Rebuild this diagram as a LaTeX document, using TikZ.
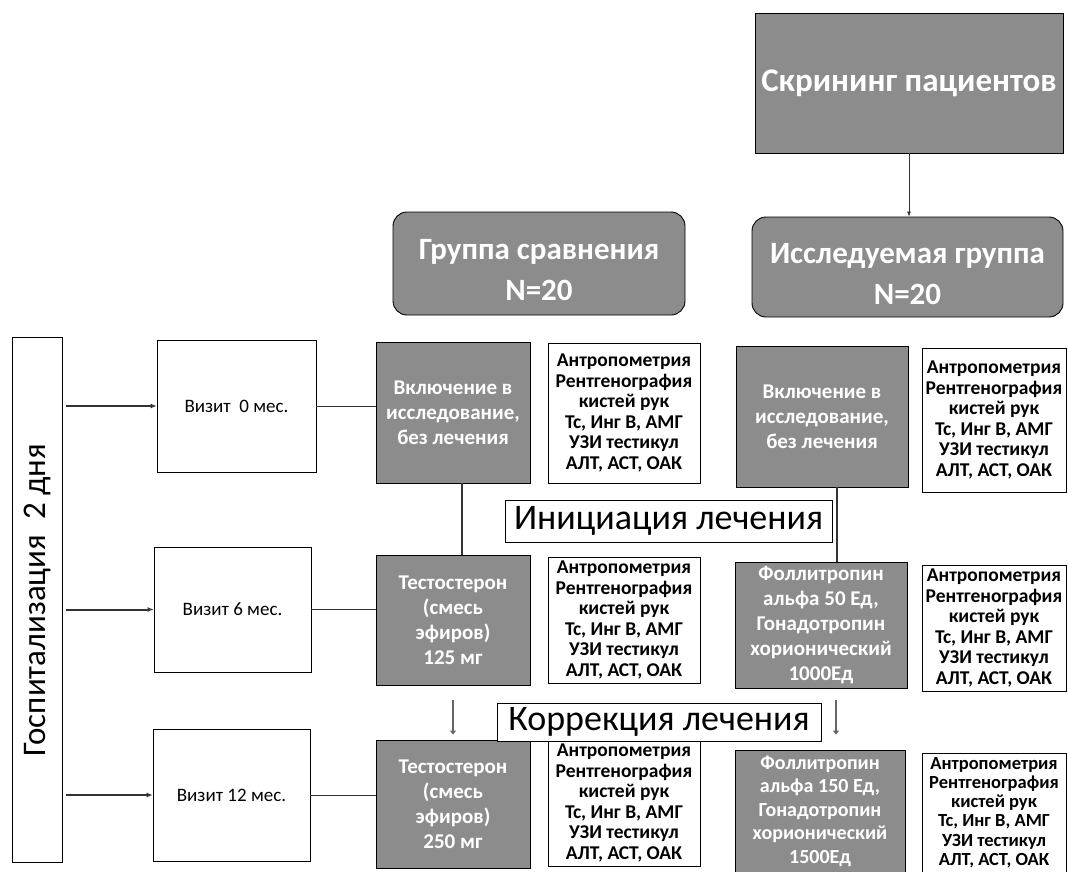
\documentclass[tikz,border=0pt]{standalone}
\usepackage{fontspec}
\setmainfont{Carlito}
\usetikzlibrary{arrows.meta, calc, positioning}

\newcommand{\examlist}{Антропометрия\\Рентгенография\\кистей рук\\Тс, Инг В, АМГ\\УЗИ тестикул\\АЛТ, АСТ, ОАК}

\tikzset{
	plainbox/.style = {draw = black, line width = 0.6pt, fill = white, align = center, inner sep = 1pt},
	greybox/.style = {draw = black, line width = 0.6pt, fill = black!45, text = white, align = center, inner sep = 1pt, font = \bfseries\fontsize{21}{25}\selectfont},
	groupbox/.style = {greybox, rounded corners = 14pt, line width = 0.9pt, font = \bfseries\fontsize{31}{41}\selectfont},
	exambox/.style = {plainbox, font = \bfseries\fontsize{19.5}{20.5}\selectfont},
	visitbox/.style = {plainbox, font = \fontsize{19}{22}\selectfont},
	stagebox/.style = {plainbox, line width = 0.5pt, font = \fontsize{36}{38}\selectfont},
	link/.style = {draw = black!80, line width = 0.6pt},
	stem/.style = {draw = black!80, line width = 2.4pt},
	visitarrow/.style = {draw = black!80, line width = 2pt, -{Latex[open, length = 6pt, width = 5pt]}},
	steparrow/.style = {draw = black!60, line width = 2.6pt, -{Latex[length = 4pt, width = 7pt]}}
}

\begin{document}
\begin{tikzpicture}[x = 1pt, y = -1pt]
		\useasboundingbox (0,0) rectangle (1068,872);
		
		%screening and groups
		\node [greybox, minimum width = 308, minimum height = 140, font = \bfseries\fontsize{33}{38}\selectfont] (screening) at (909,83) {Скрининг пациентов};
		\node [groupbox, minimum width = 292, minimum height = 103, text height = 74pt, text depth = 0pt] (control group) at (539,263.5) {Группа сравнения\\N=20};
		\node [groupbox, minimum width = 311, minimum height = 100, text height = 74pt, text depth = 0pt] (study group) at (907.5,267) {Исследуемая группа\\N=20};
		
		\draw [link, -{Latex[length = 5pt, width = 4pt]}] (screening.south) -- (screening.south |- study group.north);
		
		%hospital stay
		\node [plainbox, minimum width = 50, minimum height = 525] (hospital) at (37,600) {};
		\node [rotate = 90, font = \fontsize{33}{36}\selectfont] (hospital text) at (hospital.center) {Госпитализация\ \ 2 дня};
		
		%visits
		\node [visitbox, minimum width = 159, minimum height = 132] (visit 0) at (236.5,406) {Визит\ \ 0 мес.};
		\node [visitbox, minimum width = 157, minimum height = 125] (visit 6) at (232.5,609.5) {Визит 6 мес.};
		\node [visitbox, minimum width = 157, minimum height = 132] (visit 12) at (231.5,795) {Визит 12 мес.};
		
		%comparison group column
		\node [greybox, minimum width = 154, minimum height = 141] (control 0) at (453,412.5) {Включение в\\исследование,\\без лечения};
		\node [greybox, minimum width = 154, minimum height = 130] (control 6) at (453,620) {Тестостерон\\(смесь\\эфиров)\\125 мг};
		\node [greybox, minimum width = 154, minimum height = 128] (control 12) at (453,804) {Тестостерон\\(смесь\\эфиров)\\250 мг};
		
		%study group column
		\node [greybox, minimum width = 172, minimum height = 141] (study 0) at (822,416.5) {Включение в\\исследование,\\без лечения};
		\node [greybox, minimum width = 172, minimum height = 126] (study 6) at (821,625) {Фоллитропин\\альфа 50 Ед,\\Гонадотропин\\хорионический\\1000Ед};
		\node [greybox, minimum width = 170, minimum height = 122, font = \bfseries\fontsize{20}{23.5}\selectfont] (study 12) at (820,811) {Фоллитропин\\альфа 150 Ед,\\Гонадотропин\\хорионический\\1500Ед};
		
		%examinations
		\foreach \name/\xc/\yc/\w/\h in {exam a0/624/413/152/140, exam a6/624/620/152/126, exam a12/624/803/152/126, exam b0/994/420/144/144, exam b6/994/628/144/126}
			\node [exambox, minimum width = \w, minimum height = \h] (\name) at (\xc,\yc) {\examlist};
		\node [exambox, minimum width = 144, minimum height = 119, font = \bfseries\fontsize{18.5}{19.2}\selectfont] (exam b12) at (994,812.5) {\examlist};
		
		%stages
		\node [stagebox, minimum width = 327, minimum height = 42] (initiation) at (668.5,521) {Инициация лечения};
		\node [stagebox, minimum width = 324, minimum height = 38] (correction) at (659,722) {Коррекция лечения};
		
		%connectors
		\foreach \v in {0, 6, 12} {
			\draw [visitarrow, shorten <= 4pt] (hospital.east |- visit \v.center) -- (visit \v.west);
			\draw [link] (visit \v.east) -- (visit \v.east -| control \v.west);
		}
		
		\draw [stem] ([xshift = 9pt] control 0.south) -- ([xshift = 9pt] control 6.north);
		\draw [stem] ([xshift = 15pt] study 0.south) -- ([xshift = 15pt] study 0.south |- study 6.north);
		
		\coordinate (left step start) at ($ (control 6.south) + (0,15) $);
		\coordinate (left step end) at ($ (control 12.north) + (0,-5) $);
		\coordinate (right step start) at ($ (study 6.south) + (15,12) $);
		\coordinate (right step end) at ($ (right step start |- study 12.north) + (0,-15) $);
		\draw [steparrow] (left step start) -- (left step end);
		\draw [steparrow] (right step start) -- (right step end);
	\end{tikzpicture}
\end{document}
